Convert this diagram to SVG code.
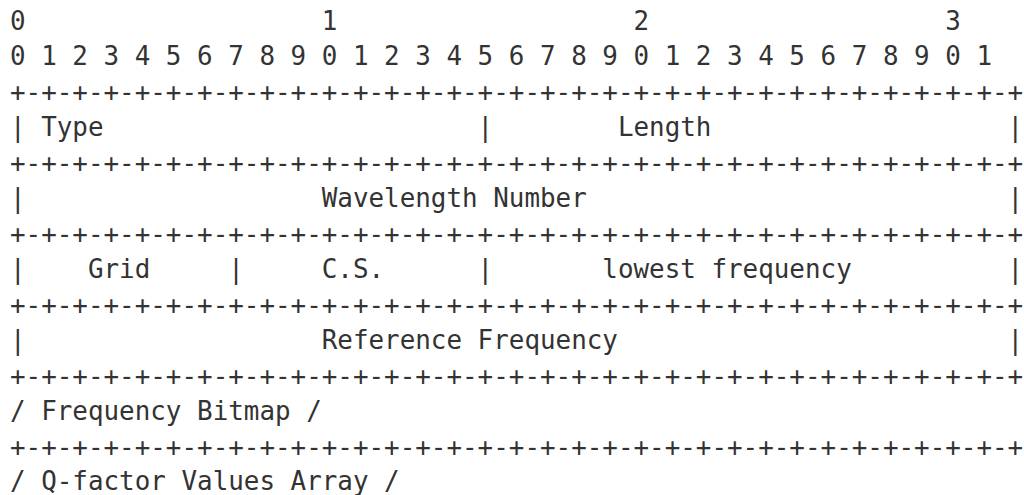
<svg xmlns="http://www.w3.org/2000/svg" width="1024" height="495" viewBox="0 0 1024 495">
<style>
text{font-family:"DejaVu Sans Mono","Liberation Mono",monospace;font-size:25.9px;fill:#333;white-space:pre}
</style>
<rect width="1024" height="495" fill="#fff"/>
<g id="ruler">
<text x="10" y="29.5" xml:space="preserve">0                   1                   2                   3</text>
<text x="10" y="65" xml:space="preserve">0 1 2 3 4 5 6 7 8 9 0 1 2 3 4 5 6 7 8 9 0 1 2 3 4 5 6 7 8 9 0 1</text>
</g>
<g id="borders">
<text x="10" y="100.5" xml:space="preserve">+-+-+-+-+-+-+-+-+-+-+-+-+-+-+-+-+-+-+-+-+-+-+-+-+-+-+-+-+-+-+-+-+</text>
<text x="10" y="171.5" xml:space="preserve">+-+-+-+-+-+-+-+-+-+-+-+-+-+-+-+-+-+-+-+-+-+-+-+-+-+-+-+-+-+-+-+-+</text>
<text x="10" y="242.5" xml:space="preserve">+-+-+-+-+-+-+-+-+-+-+-+-+-+-+-+-+-+-+-+-+-+-+-+-+-+-+-+-+-+-+-+-+</text>
<text x="10" y="313.5" xml:space="preserve">+-+-+-+-+-+-+-+-+-+-+-+-+-+-+-+-+-+-+-+-+-+-+-+-+-+-+-+-+-+-+-+-+</text>
<text x="10" y="384.5" xml:space="preserve">+-+-+-+-+-+-+-+-+-+-+-+-+-+-+-+-+-+-+-+-+-+-+-+-+-+-+-+-+-+-+-+-+</text>
<text x="10" y="455.5" xml:space="preserve">+-+-+-+-+-+-+-+-+-+-+-+-+-+-+-+-+-+-+-+-+-+-+-+-+-+-+-+-+-+-+-+-+</text>
</g>
<g id="row-type-length">
<text x="10" y="136" xml:space="preserve">| Type                        |        Length                   |</text>
</g>
<g id="row-wavelength">
<text x="10" y="207" xml:space="preserve">|                   Wavelength Number                           |</text>
</g>
<g id="row-grid">
<text x="10" y="278" xml:space="preserve">|    Grid     |     C.S.      |       lowest frequency          |</text>
</g>
<g id="row-reference">
<text x="10" y="349" xml:space="preserve">|                   Reference Frequency                         |</text>
</g>
<g id="row-bitmap">
<text x="10" y="420" xml:space="preserve">/ Frequency Bitmap /</text>
</g>
<g id="row-qfactor">
<text x="10" y="489.5" xml:space="preserve">/ Q-factor Values Array /</text>
</g>
</svg>
